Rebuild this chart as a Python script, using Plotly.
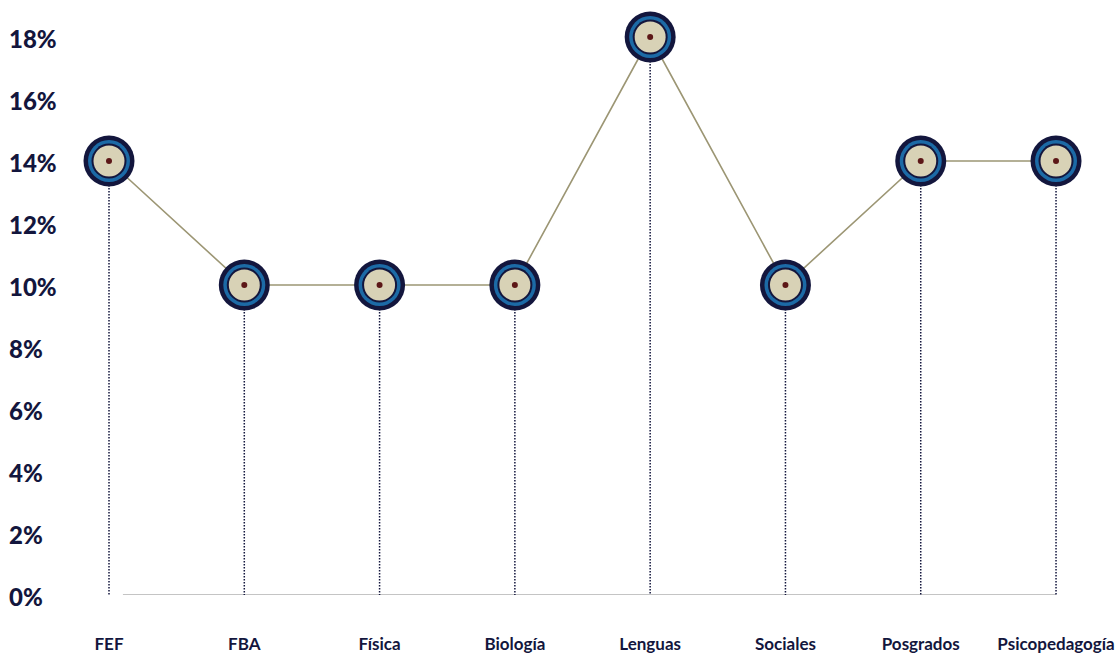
import plotly.graph_objects as go

categories = ["FEF", "FBA", "Física", "Biología", "Lenguas", "Sociales", "Posgrados", "Psicopedagogía"]
values = [0.14, 0.10, 0.10, 0.10, 0.18, 0.10, 0.14, 0.14]
y_ticks = [0, 0.02, 0.04, 0.06, 0.08, 0.10, 0.12, 0.14, 0.16, 0.18]
y_tick_labels = ["0%", "2%", "4%", "6%", "8%", "10%", "12%", "14%", "16%", "18%"]

NAVY = "#13163d"
W, H = 1120, 654
L, R, T, B = 60, 0, 6, 54
xs = list(range(len(categories)))

fig = go.Figure()

# dotted drop lines
dx, dy = [], []
for i, v in zip(xs, values):
    dx += [i, i, None]
    dy += [v, 0, None]
fig.add_trace(go.Scatter(x=dx, y=dy, mode="lines",
                         line=dict(color=NAVY, width=1.5, dash="1.5px,1.5px"),
                         hoverinfo="skip", showlegend=False))
# connecting line
fig.add_trace(go.Scatter(x=xs, y=values, mode="lines",
                         line=dict(color="#9c9674", width=1.6),
                         showlegend=False))
# layered target markers
for size, color in [(51, NAVY), (42, "#1c6aa6"), (35, NAVY), (31, "#d8d2b6"), (6, "#5c1717")]:
    fig.add_trace(go.Scatter(x=xs, y=values, mode="markers",
                             marker=dict(size=size, color=color, line=dict(width=0)),
                             showlegend=False, cliponaxis=False))

# baseline
fig.add_shape(type="line", x0=0.103, x1=7, y0=0, y1=0, xref="x", yref="y",
              line=dict(color="#8a8a8a", width=1.2), layer="below")

# y tick labels, left aligned
for v, t in zip(y_ticks, y_tick_labels):
    fig.add_annotation(x=(7 - L) / (W - L - R), xref="paper", y=v, yref="y",
                       text=t, showarrow=False, xanchor="left", yanchor="middle",
                       yshift=-1,
                       font=dict(family="Lato", size=24, color=NAVY, weight=900))

x0 = (L - 109) / 135.29
x1 = (W - R - 109) / 135.29
fig.update_layout(
    width=W, height=H,
    margin=dict(l=L, r=R, t=T, b=B),
    paper_bgcolor="white", plot_bgcolor="white",
    xaxis=dict(range=[x0, x1], tickvals=xs, ticktext=categories,
               showgrid=False, zeroline=False, showline=False, ticks="",
               ticklabelstandoff=37,
               tickfont=dict(family="Lato", size=17, color=NAVY, weight="bold")),
    yaxis=dict(range=[0, 0.19], showgrid=False, zeroline=False, showline=False,
               showticklabels=False),
)
fig.write_html("out.html", config={"displayModeBar": False},
               post_script="document.body.style.margin='0';document.body.style.overflow='hidden';")
